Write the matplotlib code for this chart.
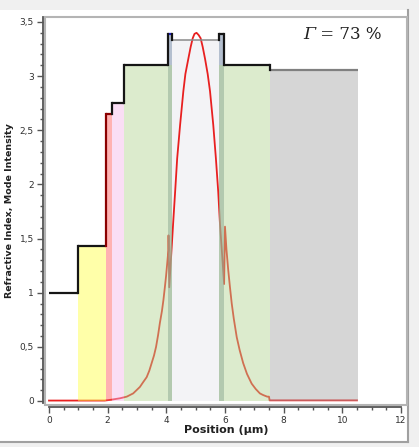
import matplotlib
matplotlib.use("Agg")
import matplotlib.pyplot as plt
from matplotlib.patches import Rectangle
from matplotlib.lines import Line2D
from matplotlib.ticker import MultipleLocator, FuncFormatter

# layer stack: start, end (µm), refractive index
layer_x0 = [0.0, 1.0, 1.94, 2.15, 2.57, 4.07, 4.21, 5.81, 5.95, 7.53]
layer_x1 = [1.0, 1.94, 2.15, 2.57, 4.07, 4.21, 5.81, 5.95, 7.53, 10.55]
layer_n = [1.0, 1.43, 2.65, 2.75, 3.1, 3.39, 3.33, 3.39, 3.1, 3.06]
layer_kind = ["air", "yellow", "red", "pink", "green", "strip", "core", "strip", "green", "gray"]

# mode intensity
mode_x = [0.0, 1.0, 1.9, 2.08, 2.42, 2.65, 2.87, 3.10, 3.20, 3.33, 3.42, 3.50,
          3.58, 3.65, 3.72, 3.78, 3.85, 3.90, 3.95, 3.99, 4.03, 4.07, 4.075,
          4.10, 4.16, 4.23, 4.30, 4.37, 4.47, 4.58, 4.65, 4.75, 4.83, 4.90,
          4.96, 5.03, 5.10, 5.17, 5.24, 5.32, 5.41, 5.49, 5.60, 5.69, 5.77,
          5.83, 5.91, 5.97, 6.0, 6.05, 6.11, 6.17, 6.23, 6.30, 6.40, 6.50,
          6.62, 6.75, 6.91, 7.05, 7.19, 7.30, 7.44, 7.5, 7.52, 10.5]
mode_y = [0.004, 0.004, 0.004, 0.01, 0.025, 0.04, 0.07, 0.13, 0.17, 0.22, 0.28, 0.35,
          0.42, 0.50, 0.61, 0.72, 0.83, 0.93, 1.05, 1.15, 1.27, 1.39, 1.53,
          1.05, 1.32, 1.63, 1.93, 2.24, 2.55, 2.86, 3.02, 3.16, 3.27, 3.35,
          3.39, 3.40, 3.38, 3.35, 3.27, 3.16, 3.02, 2.86, 2.55, 2.24, 1.93,
          1.63, 1.32, 1.08, 1.61, 1.40, 1.21, 1.05, 0.90, 0.76, 0.59, 0.47,
          0.35, 0.25, 0.16, 0.11, 0.07, 0.055, 0.04, 0.04, 0.006, 0.006]

confinement = 73

fill_colors = {
    "yellow": "#ffff42",
    "red": "#ff5454",
    "pink": "#f4b6e9",
    "green": "#b3d390",
    "strip": "#5a7296",
    "gray": "#a4a4a4",
}
line_colors = {"red": "#8b0000", "core": "#8a8a8a", "gray": "#808080"}

W, H = 419, 447
fig = plt.figure(figsize=(W / 100, H / 100), dpi=100, facecolor="#f0f0f0")


def px(x0, y0, x1, y1):
    return [x0 / W, 1 - y1 / H, (x1 - x0) / W, (y1 - y0) / H]


# white panel with border on the right and bottom
fig.patches.append(Rectangle((0, 1 - 442 / H), 408 / W, 432 / H,
                             transform=fig.transFigure, facecolor="white",
                             edgecolor="none", zorder=-5))
fig.lines.append(Line2D([408 / W, 408 / W], [1 - 442 / H, 1 - 10 / H],
                        transform=fig.transFigure, color="#a0a0a0", lw=1.5, zorder=-4))
fig.lines.append(Line2D([0, 408 / W], [1 - 442 / H, 1 - 442 / H],
                        transform=fig.transFigure, color="#a0a0a0", lw=1.5, zorder=-4))

ax = fig.add_axes(px(45, 17, 407, 405))
ax.set_facecolor("white")
ax.set_xlim(-0.136, 12.205)
ax.set_ylim(-0.037, 3.546)

# plot-area frame
ax.add_patch(Rectangle((0, 0), 1, 1, transform=ax.transAxes, fill=False,
                       edgecolor="#b4b4b4", lw=1.5, clip_on=False, zorder=0.5))

# layer fills
for i, kind in enumerate(layer_kind):
    if kind == "air":
        continue
    w = layer_x1[i] - layer_x0[i]
    if kind == "core":
        ax.add_patch(Rectangle((layer_x0[i], 0), w, layer_n[i],
                               facecolor="#f3f3f6", edgecolor="none", zorder=1))
        continue
    ax.add_patch(Rectangle((layer_x0[i], 0), w, layer_n[i],
                           facecolor=fill_colors[kind], alpha=0.45,
                           edgecolor="none", zorder=3))
    if kind == "strip":
        # cladding continues under the thin strip
        nb = i - 1 if layer_kind[i - 1] == "green" else i + 1
        ax.add_patch(Rectangle((layer_x0[i], 0), w, layer_n[nb],
                               facecolor=fill_colors["green"], alpha=0.5,
                               edgecolor="none", zorder=3))

# mode intensity
ax.plot(mode_x, mode_y, color="#e82020", lw=1.3, zorder=2)

# refractive index step profile
for i, kind in enumerate(layer_kind):
    col = line_colors.get(kind, "#151515")
    lw = 1.1 if kind == "core" else 1.6
    if kind == "strip" and i < 6:
        col = "#2020c8"
    ax.plot([layer_x0[i], layer_x1[i]], [layer_n[i], layer_n[i]],
            color=col, lw=lw, zorder=4, solid_capstyle="butt")
    if i > 0:
        vcol = line_colors["red"] if kind == "red" else "#151515"
        ax.plot([layer_x0[i], layer_x0[i]], [layer_n[i - 1], layer_n[i]],
                color=vcol, lw=1.6, zorder=4)

g = ax.text(0.713, 0.943, "Γ", transform=ax.transAxes, ha="left",
            va="baseline", fontsize=12.5, family="DejaVu Serif",
            style="italic", color="#202020")
ax.annotate(" = %d %%" % confinement, xy=(1, 0), xycoords=g, ha="left",
            va="bottom", fontsize=12, family="DejaVu Serif", color="#202020")

# axes styling
for s in ["top", "right"]:
    ax.spines[s].set_visible(False)
ax.spines["left"].set_position(("outward", 1.5))
ax.spines["bottom"].set_position(("outward", 1.5))
ax.spines["left"].set_bounds(-0.02, 3.546)
ax.spines["bottom"].set_bounds(0, 12)
for s in ["left", "bottom"]:
    ax.spines[s].set_color("#555555")
    ax.spines[s].set_linewidth(1.3)

ax.xaxis.set_major_locator(MultipleLocator(2))
ax.xaxis.set_minor_locator(MultipleLocator(0.5))
ax.yaxis.set_major_locator(MultipleLocator(0.5))
ax.yaxis.set_minor_locator(MultipleLocator(0.1))
fmt = FuncFormatter(lambda v, p: ("%g" % round(v, 2)).replace(".", ","))
ax.xaxis.set_major_formatter(fmt)
ax.yaxis.set_major_formatter(fmt)
ax.tick_params(which="major", length=4.5, width=1, color="#555555",
               labelsize=6.5, labelcolor="#303030", pad=2)
ax.tick_params(which="minor", length=2.5, width=1, color="#555555")

ax.set_xlabel("Position (µm)", fontsize=8, fontweight="bold", color="#202020")
ax.set_ylabel("Refractive Index, Mode Intensity", fontsize=6.8,
              fontweight="bold", color="#202020")
ax.xaxis.set_label_coords(0.5, -0.064)
ax.xaxis.label.set_va("center")
ax.yaxis.set_label_coords(-0.0994, 0.5)
ax.yaxis.label.set_va("center")

fig.savefig("out.png", dpi=100, facecolor=fig.get_facecolor())
